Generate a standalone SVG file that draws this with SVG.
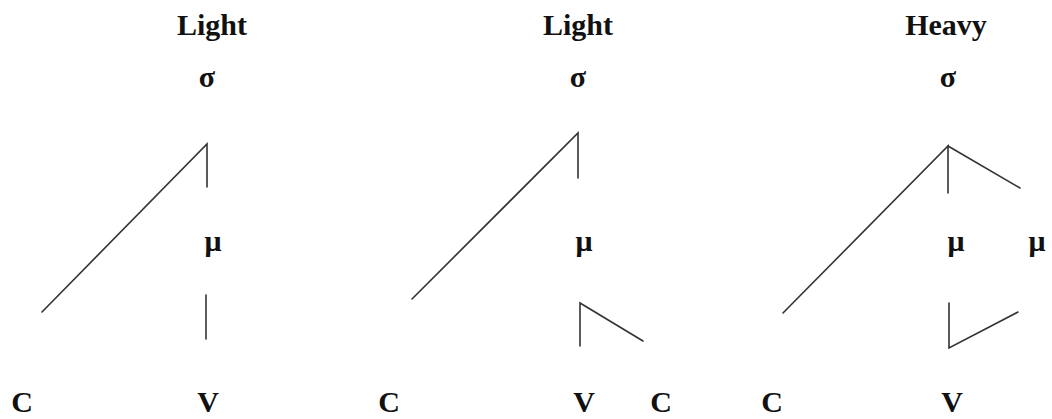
<svg xmlns="http://www.w3.org/2000/svg" width="1052" height="419" viewBox="0 0 1052 419">
<style>
text{font-family:"Liberation Serif","Times New Roman",serif;font-weight:bold;font-size:30px;fill:#111;text-anchor:middle}
.e{stroke:#333;stroke-width:1.6;fill:none;stroke-linecap:round}
</style>
<rect width="1052" height="419" fill="#fff"/>
<g id="tree1">
<g id="t1-title"><text x="212" y="35">Light</text></g>
<g id="t1-sigma"><text x="207" y="87">σ</text></g>
<g id="t1-mu"><text x="213" y="251">μ</text></g>
<g id="t1-C"><text x="22" y="412">C</text></g>
<g id="t1-V"><text x="208" y="412">V</text></g>
</g>
<g id="tree2">
<g id="t2-title"><text x="578" y="35">Light</text></g>
<g id="t2-sigma"><text x="578" y="87">σ</text></g>
<g id="t2-mu"><text x="584" y="251">μ</text></g>
<g id="t2-C1"><text x="389" y="412">C</text></g>
<g id="t2-V"><text x="584" y="412">V</text></g>
<g id="t2-C2"><text x="661" y="412">C</text></g>
</g>
<g id="tree3">
<g id="t3-title"><text x="946" y="35">Heavy</text></g>
<g id="t3-sigma"><text x="948" y="87">σ</text></g>
<g id="t3-mu1"><text x="956" y="251">μ</text></g>
<g id="t3-mu2"><text x="1037" y="251">μ</text></g>
<g id="t3-C"><text x="772" y="412">C</text></g>
<g id="t3-V"><text x="952" y="412">V</text></g>
</g>
<g id="connectors">
<polyline class="e" points="42,312 207,144 207,187"/>
<line class="e" x1="206" y1="295" x2="206" y2="339"/>
<polyline class="e" points="412,299 578,133 578,178"/>
<polyline class="e" points="580,346 580,303 643,341"/>
<polyline class="e" points="783,313 948,146 948,193"/>
<line class="e" x1="948" y1="146" x2="1020" y2="188"/>
<polyline class="e" points="949,303 949,348 1018,312"/>
</g>
</svg>
